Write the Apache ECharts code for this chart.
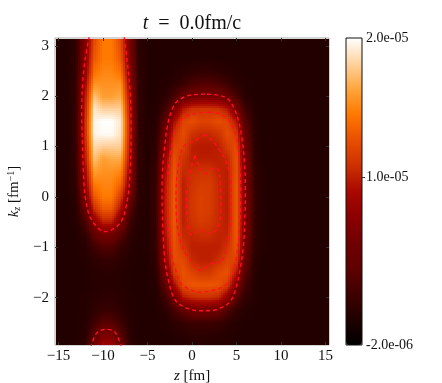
<!DOCTYPE html>
<html><head><meta charset="utf-8">
<style>html,body{margin:0;padding:0;background:#fff}#c{width:442px;height:383px}</style>
<script src="https://cdn.jsdelivr.net/npm/echarts@6/dist/echarts.min.js"></script>
</head><body><div id="c"></div>
<script>
// positions of the sampled field (fm, fm^-1); values are in units of 1e-6
const zValues = [-16,-15,-14,-13,-12,-11,-10,-9,-8,-7,-6,-5,-4,-3,-2,-1,0,1,2,3,4,5,6,7,8,9,10,11,12,13,14,15,16];
const kValues = [3.25,3,2.75,2.5,2.25,2,1.75,1.5,1.25,1,0.75,0.5,0.25,0,-0.25,-0.5,-0.75,-1,-1.25,-1.5,-1.75,-2,-2.25,-2.5,-2.75,-3,-3.25];
const fieldRows = [
[0,0,0,.8,6,12,14.5,14.5,12,5.5,.6,0,0,0,0,0,0,0,0,0,0,0,0,0,0,0,0,0,0,0,0,0,0],
[0,0,0,.8,6.5,12.5,14.5,14.5,12.5,6,.6,0,0,0,0,0,0,0,0,0,0,0,0,0,0,0,0,0,0,0,0,0,0],
[0,0,0,.8,7,13,14.5,14.5,13,6.5,.6,0,0,0,0,0,0,0,0,0,0,0,0,0,0,0,0,0,0,0,0,0,0],
[0,0,0,.9,7.5,14,15,15,14,7,.7,0,0,0,.1,.3,.6,.8,.8,.6,.3,.1,0,0,0,0,0,0,0,0,0,0,0],
[0,0,0,1,8.5,15.5,15.5,15.5,15.5,8,.8,0,0,.1,.5,1.2,2.2,2.6,2.6,2.2,1.3,.5,.1,0,0,0,0,0,0,0,0,0,0],
[0,0,0,1,9.5,17.5,16,16,16.5,9,.8,0,0,.5,2,4,5.3,5.7,5.7,5.3,4,2,.4,0,0,0,0,0,0,0,0,0,0],
[0,0,0,1.1,10,19,18,18,18,9.5,.9,0,.1,1.5,5,9.5,10.8,11,11,10.8,9.5,5.5,1.5,.1,0,0,0,0,0,0,0,0,0],
[0,0,0,1.2,10.5,19.5,20,20,19,10,.9,0,.3,3.5,9,12,12.6,12,12,12.6,12,9.5,3,.3,0,0,0,0,0,0,0,0,0],
[0,0,0,1.2,10.5,19.5,19.8,19.8,18.8,10,.9,0,.5,5,11,12.5,11,10.5,10.5,11,12.5,11.5,4,.4,0,0,0,0,0,0,0,0,0],
[0,0,0,1.1,10,18.5,18,18,18,9.5,.8,0,.7,6.5,12,12,10,9.7,9.7,10,11.5,12.5,5,.5,0,0,0,0,0,0,0,0,0],
[0,0,0,1,9.5,17.5,16,16.5,16.5,9,.8,0,.9,8,12.7,11,10,10,10,10,10.3,13,5.5,.7,0,0,0,0,0,0,0,0,0],
[0,0,0,.9,8.5,16,15.5,15.5,15,8,.7,.1,1,9,13,10.5,10.7,11,11,10.2,9.9,13,6,.9,.1,0,0,0,0,0,0,0,0],
[0,0,0,.7,7.5,14.5,15,15,13.5,7,.6,.1,1.2,9.5,13.2,10,11,11.5,11.5,10.5,9.9,13.2,6,1,.1,0,0,0,0,0,0,0,0],
[0,0,0,.5,6,13,14.5,14.5,11.5,5,.5,.1,1.3,9.7,13.2,10,11.2,11.8,11.5,10.5,9.8,13.3,6.2,1.1,.1,0,0,0,0,0,0,0,0],
[0,0,0,.3,4,10.5,13,13,9,3,.3,.1,1.3,9.7,13.2,10,11.2,11.8,11.5,10.5,9.8,13.3,6.2,1.1,.1,0,0,0,0,0,0,0,0],
[0,0,0,.1,2,7,10,10,6,1.5,.2,.1,1.2,9.6,13.2,10,11,11.5,11.2,10.5,9.9,13.3,6,1,.1,0,0,0,0,0,0,0,0],
[0,0,0,0,.8,3.5,5.5,5.5,3,.8,.1,.1,1,9.2,13,10.5,10.4,10.7,10.7,10.2,10.2,13.3,5.6,.9,.1,0,0,0,0,0,0,0,0],
[0,0,0,0,.3,1.5,2.5,2.5,1.2,.3,0,.1,.9,8.5,12.8,11.2,10,10,10,10,11,13,5,.7,.1,0,0,0,0,0,0,0,0],
[0,0,0,0,.1,.6,1,1,.5,.1,0,0,.7,7.5,12.5,12.3,10.5,10,10,10.7,12,12,4,.5,0,0,0,0,0,0,0,0,0],
[0,0,0,0,0,.3,.4,.4,.2,0,0,0,.4,5.5,11.5,12.8,12,11.3,11.3,12.3,12.7,9.8,3,.3,0,0,0,0,0,0,0,0,0],
[0,0,0,0,0,.2,.3,.3,.2,0,0,0,.2,3.5,9,12.5,13,13,13,12.8,11.5,6.5,1.8,.2,0,0,0,0,0,0,0,0,0],
[0,0,0,0,.1,.4,.6,.6,.4,.1,0,0,.1,1.5,5,9.5,10.5,10.8,10.8,10.3,7.5,3.2,.8,.1,0,0,0,0,0,0,0,0,0],
[0,0,0,0,.1,.7,1.2,1.2,.7,.1,0,0,0,.5,2,3.5,5,5.3,5.3,4.6,2.5,1,.2,0,0,0,0,0,0,0,0,0,0],
[0,0,0,0,.2,1.5,3,3,1.5,.2,0,0,0,.1,.5,1,1.5,1.5,1.5,1.2,.6,.2,0,0,0,0,0,0,0,0,0,0,0],
[0,0,0,0,.4,3.2,6,6,3,.4,0,0,0,0,.1,.3,.5,.5,.5,.4,.2,0,0,0,0,0,0,0,0,0,0,0,0],
[0,0,0,.1,.8,5.5,9,9,5.5,.8,.1,0,0,0,0,0,0,0,0,0,0,0,0,0,0,0,0,0,0,0,0,0,0],
[0,0,0,.1,1,7,11,11,7,1,.1,0,0,0,0,0,0,0,0,0,0,0,0,0,0,0,0,0,0,0,0,0,0]
];
// heat colour ramp, evenly spaced
const heatColors = ['#000000','#200000','#400000','#600000','#700000','#8c0000','#a80800','#cc3000','#e84e00','#ff7800','#ffa53c','#ffd2a0','#ffffff'];
// dashed contour lines, [z, k]
const contourLeftOuter = [[-11.54,3.2],[-12.02,2.72],[-12.3,2.25],[-12.4,1.66],[-12.3,1],[-12.2,.47],[-11.95,-.06],[-11.27,-.46],[-9.78,-.69],[-8.09,-.52],[-7.34,-.13],[-6.97,.47],[-6.85,1.33],[-6.97,2.12],[-7.34,2.78],[-7.64,3.2]];
const contourLeftBottom = [[-11.4,-3],[-10.7,-2.7],[-9.58,-2.63],[-8.65,-2.69],[-7.9,-3]];
const contourRing1 = [[1.46,2.04],[-.22,2.02],[-1.35,1.94],[-1.91,1.85],[-2.4,1.66],[-2.77,1.4],[-3.03,1.07],[-3.26,.67],[-3.37,.2],[-3.33,-.32],[-3.22,-.85],[-3.03,-1.28],[-2.66,-1.65],[-2.02,-2.01],[-1.16,-2.16],[-.04,-2.24],[.9,-2.26],[2.02,-2.26],[3.15,-2.21],[4.27,-2.08],[4.94,-1.81],[5.39,-1.45],[5.77,-.99],[5.96,-.32],[5.99,.2],[5.88,.73],[5.58,1.2],[5.2,1.53],[4.64,1.79],[4.08,1.94],[2.96,2.02],[1.46,2.04]];
const contourRing2 = [[2.02,1.68],[.15,1.65],[-1.16,1.54],[-1.8,1.33],[-2.28,1],[-2.66,.54],[-2.77,0],[-2.66,-.59],[-2.4,-1.05],[-1.91,-1.41],[-1.16,-1.73],[.9,-1.89],[3.15,-1.81],[4.27,-1.65],[4.94,-1.25],[5.32,-.65],[5.47,0],[5.32,.73],[4.94,1.2],[4.08,1.53],[2.96,1.66],[2.02,1.68]];
const contourRing3 = [[1.46,1.24],[.15,1.1],[-.97,1],[-1.54,.6],[-1.8,.07],[-1.65,-.59],[-.97,-1.05],[-.04,-1.28],[.9,-1.46],[2.21,-1.32],[3.33,-1.28],[4.08,-.85],[4.38,-.32],[4.38,.2],[3.9,.67],[2.96,.97],[2.02,1.16],[1.46,1.24]];
const contourRing4 = [[.34,.83],[.9,.57],[1.46,.46],[2.4,.57],[2.96,.54],[3.22,.07],[3.22,-.32],[2.77,-.65],[1.83,-.72],[.9,-.65],[-.04,-.75],[-.53,-.46],[-.6,0],[-.15,.54],[.34,.83]];
const contours = [contourLeftOuter,contourLeftBottom,contourRing1,contourRing2,contourRing3,contourRing4];
const zTicks = [-15,-10,-5,0,5,10,15];
const kTicks = [-2,-1,0,1,2,3];
const barTicks = [-2,10,20];
const barTickLabels = ['-2.0e-06','1.0e-05','2.0e-05'];
const titleText = '{i|t}  =  0.0fm/c';

const serif = '"Liberation Serif","DejaVu Serif",serif';
const fieldData = [];
kValues.forEach((k,r)=>zValues.forEach((z,c)=>fieldData.push([z,k,fieldRows[r][c]])));

function renderCell(params, api){
  const cols=zValues.length, j=params.dataIndex, col=j%cols, row=Math.floor(j/cols);
  if(col===cols-1||row===kValues.length-1) return null;
  const p0=api.coord([zValues[col],kValues[row]]), p1=api.coord([zValues[col+1],kValues[row+1]]);
  const cs=params.coordSys;
  const x0=Math.max(Math.round(p0[0]),cs.x+1), x1=Math.min(Math.round(p1[0]),cs.x+cs.width);
  const y0=Math.max(Math.round(p0[1]),cs.y+1), y1=Math.min(Math.round(p1[1]),cs.y+cs.height);
  if(x1<=x0||y1<=y0) return null;
  const a=fieldRows[row][col], b=fieldRows[row][col+1], c=fieldRows[row+1][col], d=fieldRows[row+1][col+1];
  const children=[];
  for(let py=y0;py<y1;py+=2){
    const fy=Math.min(1,Math.max(0,(py+1-p0[1])/(p1[1]-p0[1])));
    for(let px=x0;px<x1;px+=2){
      const fx=Math.min(1,Math.max(0,(px+1-p0[0])/(p1[0]-p0[0])));
      const v=(a*(1-fx)+b*fx)*(1-fy)+(c*(1-fx)+d*fx)*fy;
      children.push({type:'rect',silent:true,shape:{x:px,y:py,width:Math.min(2,x1-px),height:Math.min(2,y1-py)},
        style:{fill:echarts.color.lerp((v+2)/22,heatColors)}});
    }
  }
  return {type:'group',children};
}

const chart=echarts.init(document.getElementById('c'),null,{renderer:'canvas'});
const labelStyle={fontFamily:serif,fontSize:15,color:'#111'};
chart.setOption({
  animation:false,
  backgroundColor:'#fff',
  title:{text:titleText,left:187,top:9,textAlign:'center',
    textStyle:{fontFamily:serif,fontSize:20,fontWeight:'normal',color:'#111',
      rich:{i:{fontFamily:serif,fontSize:20,fontStyle:'italic',color:'#111'}}}},
  grid:[
    {left:55,top:38,width:274,height:307,outerBoundsMode:'none',show:true,borderColor:'#aaa',borderWidth:1,backgroundColor:'transparent'},
    {left:346,top:38,width:16,height:307,outerBoundsMode:'none',show:true,borderColor:'#111',borderWidth:1,backgroundColor:'transparent',z:6}
  ],
  xAxis:[
    {type:'value',gridIndex:0,min:-15.4,max:15.4,position:'bottom',z:3,splitLine:{show:false},axisLine:{show:false,onZero:false},
     axisTick:{show:true,inside:true,length:3,customValues:zTicks,lineStyle:{color:'#333'}},
     axisLabel:{customValues:zTicks,margin:4,hideOverlap:false,showMinLabel:true,showMaxLabel:true,...labelStyle,formatter:v=>String(v).replace('-','\u2212')},
     name:'{i|z} [fm]',nameLocation:'middle',nameGap:18,
     nameTextStyle:{fontFamily:serif,fontSize:15,color:'#111',rich:{i:{fontFamily:serif,fontSize:15,fontStyle:'italic',color:'#111'}}}},
    {type:'value',gridIndex:0,min:-15.4,max:15.4,position:'top',z:3,splitLine:{show:false},axisLine:{show:false,onZero:false},axisLabel:{show:false},
     axisTick:{show:true,inside:true,length:3,customValues:zTicks,lineStyle:{color:'#333'}}},
    {type:'value',gridIndex:1,min:0,max:1,show:false}
  ],
  yAxis:[
    {type:'value',gridIndex:0,min:-2.94,max:3.155,position:'left',z:3,splitLine:{show:false},axisLine:{show:false,onZero:false},
     axisTick:{show:true,inside:true,length:3,customValues:kTicks,lineStyle:{color:'#333'}},
     axisLabel:{customValues:kTicks,margin:6,showMinLabel:true,showMaxLabel:true,...labelStyle,formatter:v=>String(v).replace('-','\u2212')},
     name:'{i|k}{s|z} [fm{u|\u22121}]',nameLocation:'middle',nameGap:21,
     nameTextStyle:{fontFamily:serif,fontSize:15,color:'#111',rich:{
       i:{fontFamily:serif,fontSize:15,fontStyle:'italic',color:'#111'},
       s:{fontFamily:serif,fontSize:10,fontStyle:'italic',color:'#111',verticalAlign:'bottom',padding:[6,0,0,0]},
       u:{fontFamily:serif,fontSize:10,color:'#111',verticalAlign:'top',padding:[0,0,6,0]}}}},
    {type:'value',gridIndex:0,min:-2.94,max:3.155,position:'right',z:3,splitLine:{show:false},axisLine:{show:false,onZero:false},axisLabel:{show:false},
     axisTick:{show:true,inside:true,length:3,customValues:kTicks,lineStyle:{color:'#333'}}},
    {type:'value',gridIndex:1,min:-2,max:20,position:'right',z:7,splitLine:{show:false},axisLine:{show:false,onZero:false},
     axisTick:{show:true,length:3,customValues:[10],lineStyle:{color:'#333'}},
     axisLabel:{customValues:barTicks,margin:4,showMinLabel:true,showMaxLabel:true,fontFamily:serif,fontSize:14,color:'#111',
       formatter:(v)=>barTickLabels[barTicks.indexOf(Math.round(v))]}}
  ],
  visualMap:{type:'continuous',seriesIndex:0,dimension:2,min:-2,max:20,calculable:false,showLabel:false,silent:true,
    left:346,top:38,itemWidth:16,itemHeight:307,padding:0,z:1,inRange:{color:heatColors},text:null},
  series:[
    {type:'custom',xAxisIndex:0,yAxisIndex:0,silent:true,z:1,encode:{x:0,y:1},data:fieldData,renderItem:renderCell},
    ...contours.map(c=>({type:'line',xAxisIndex:0,yAxisIndex:0,data:c,smooth:0.35,symbol:'none',silent:true,z:2,
      lineStyle:{color:'#ff1020',width:1.4,type:[4,3]}}))
  ]
});
</script></body></html>
